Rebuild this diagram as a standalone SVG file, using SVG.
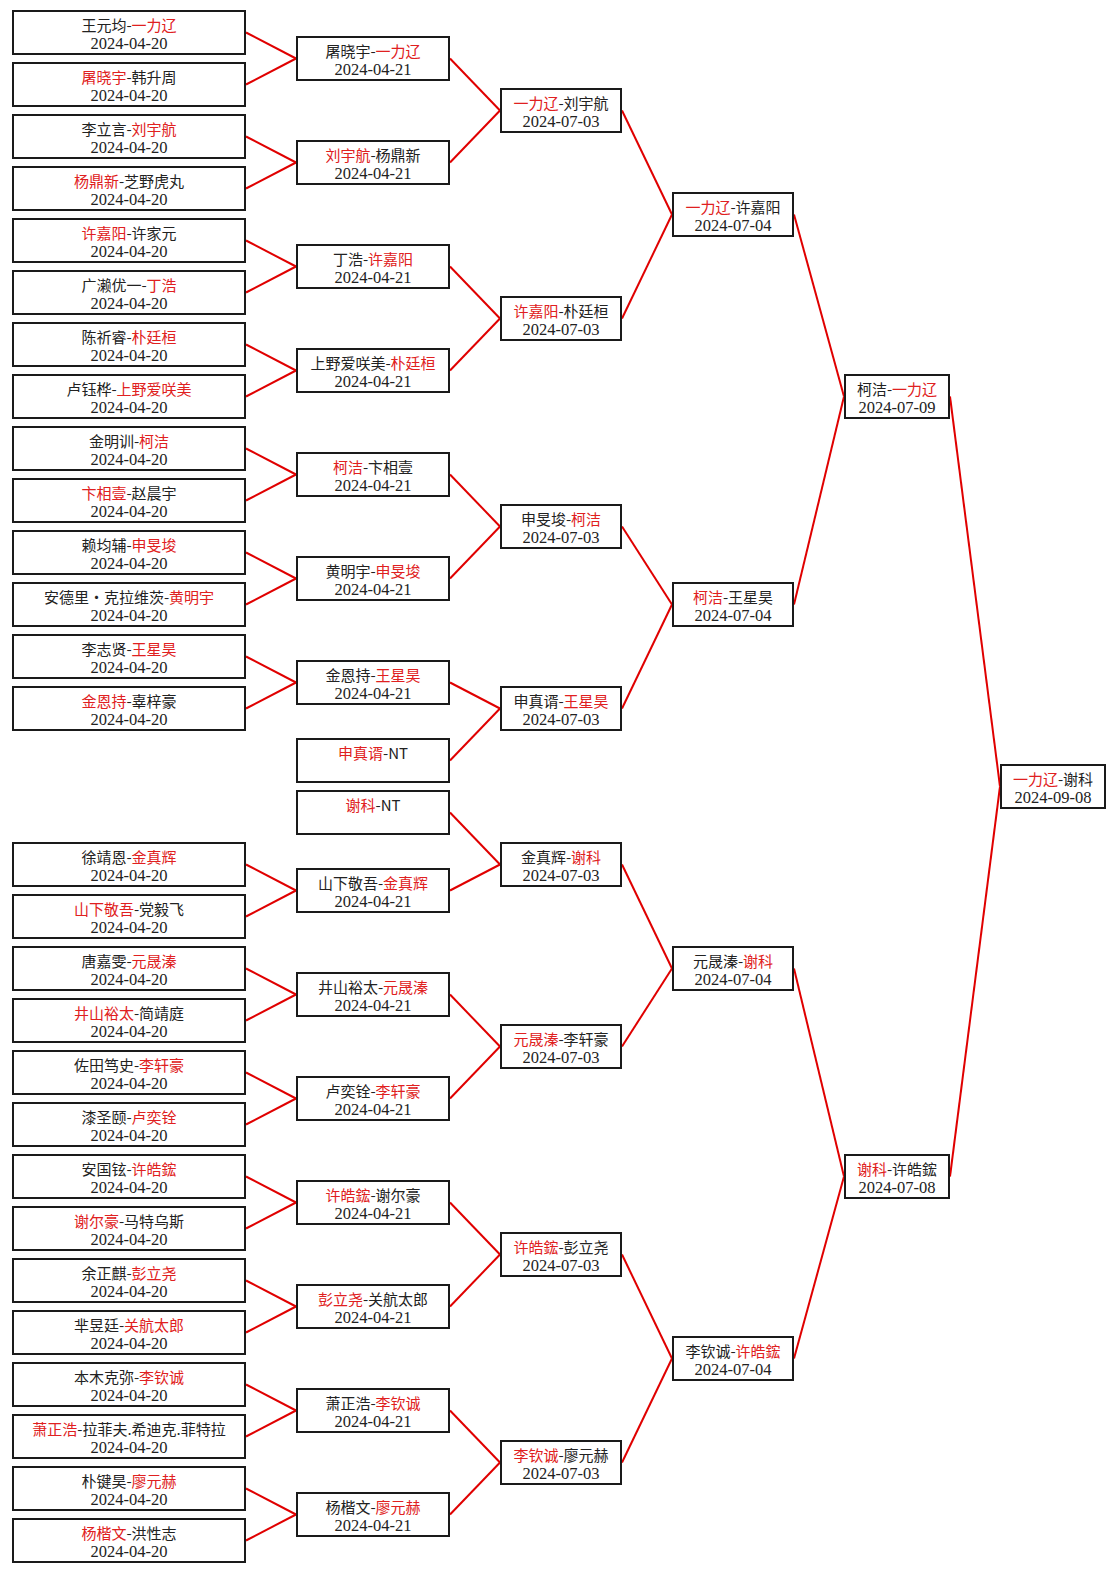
<svg xmlns="http://www.w3.org/2000/svg" width="1117" height="1573" viewBox="0 0 1117 1573">
<style>
.bg{fill:#fff}
.b{fill:none;stroke:#1a1a1a;stroke-width:2}
.t{font-family:"Noto Sans CJK SC","Noto Sans",sans-serif;font-size:15px;fill:#222;text-anchor:middle}
.w{fill:#e02020}
.d{font-family:"Liberation Serif",serif;font-size:16.5px;fill:#222;text-anchor:middle}
.c line{stroke:#e00000;stroke-width:2}
</style>
<rect class="bg" x="0" y="0" width="1117" height="1573"/>
<g id="connectors" class="c">
<line x1="246" y1="32.5" x2="296" y2="58.5"/><line x1="246" y1="84.5" x2="296" y2="58.5"/>
<line x1="246" y1="136.5" x2="296" y2="162.5"/><line x1="246" y1="188.5" x2="296" y2="162.5"/>
<line x1="246" y1="240.5" x2="296" y2="266.5"/><line x1="246" y1="292.5" x2="296" y2="266.5"/>
<line x1="246" y1="344.5" x2="296" y2="370.5"/><line x1="246" y1="396.5" x2="296" y2="370.5"/>
<line x1="246" y1="448.5" x2="296" y2="474.5"/><line x1="246" y1="500.5" x2="296" y2="474.5"/>
<line x1="246" y1="552.5" x2="296" y2="578.5"/><line x1="246" y1="604.5" x2="296" y2="578.5"/>
<line x1="246" y1="656.5" x2="296" y2="682.5"/><line x1="246" y1="708.5" x2="296" y2="682.5"/>
<line x1="246" y1="864.5" x2="296" y2="890.5"/><line x1="246" y1="916.5" x2="296" y2="890.5"/>
<line x1="246" y1="968.5" x2="296" y2="994.5"/><line x1="246" y1="1020.5" x2="296" y2="994.5"/>
<line x1="246" y1="1072.5" x2="296" y2="1098.5"/><line x1="246" y1="1124.5" x2="296" y2="1098.5"/>
<line x1="246" y1="1176.5" x2="296" y2="1202.5"/><line x1="246" y1="1228.5" x2="296" y2="1202.5"/>
<line x1="246" y1="1280.5" x2="296" y2="1306.5"/><line x1="246" y1="1332.5" x2="296" y2="1306.5"/>
<line x1="246" y1="1384.5" x2="296" y2="1410.5"/><line x1="246" y1="1436.5" x2="296" y2="1410.5"/>
<line x1="246" y1="1488.5" x2="296" y2="1514.5"/><line x1="246" y1="1540.5" x2="296" y2="1514.5"/>
<line x1="450" y1="58.5" x2="500" y2="110.5"/><line x1="450" y1="162.5" x2="500" y2="110.5"/>
<line x1="450" y1="266.5" x2="500" y2="318.5"/><line x1="450" y1="370.5" x2="500" y2="318.5"/>
<line x1="450" y1="474.5" x2="500" y2="526.5"/><line x1="450" y1="578.5" x2="500" y2="526.5"/>
<line x1="450" y1="682.5" x2="500" y2="708.5"/><line x1="450" y1="760.5" x2="500" y2="708.5"/>
<line x1="450" y1="812.5" x2="500" y2="864.5"/><line x1="450" y1="890.5" x2="500" y2="864.5"/>
<line x1="450" y1="994.5" x2="500" y2="1046.5"/><line x1="450" y1="1098.5" x2="500" y2="1046.5"/>
<line x1="450" y1="1202.5" x2="500" y2="1254.5"/><line x1="450" y1="1306.5" x2="500" y2="1254.5"/>
<line x1="450" y1="1410.5" x2="500" y2="1462.5"/><line x1="450" y1="1514.5" x2="500" y2="1462.5"/>
<line x1="622" y1="110.5" x2="672" y2="214.5"/><line x1="622" y1="318.5" x2="672" y2="214.5"/>
<line x1="622" y1="526.5" x2="672" y2="604.5"/><line x1="622" y1="708.5" x2="672" y2="604.5"/>
<line x1="622" y1="864.5" x2="672" y2="968.5"/><line x1="622" y1="1046.5" x2="672" y2="968.5"/>
<line x1="622" y1="1254.5" x2="672" y2="1358.5"/><line x1="622" y1="1462.5" x2="672" y2="1358.5"/>
<line x1="794" y1="214.5" x2="844" y2="396.5"/><line x1="794" y1="604.5" x2="844" y2="396.5"/>
<line x1="794" y1="968.5" x2="844" y2="1176.5"/><line x1="794" y1="1358.5" x2="844" y2="1176.5"/>
<line x1="950" y1="396.5" x2="1000" y2="786.5"/><line x1="950" y1="1176.5" x2="1000" y2="786.5"/>
</g>

<!-- Round 1 -->
<g id="r1-0" transform="translate(12,10)"><rect class="b" x="1" y="1" width="232" height="43"/><text class="t" x="117" y="20.5">王元均-<tspan class="w">一力辽</tspan></text><text class="d" x="117" y="38.5">2024-04-20</text></g>
<g id="r1-1" transform="translate(12,62)"><rect class="b" x="1" y="1" width="232" height="43"/><text class="t" x="117" y="20.5"><tspan class="w">屠晓宇</tspan>-韩升周</text><text class="d" x="117" y="38.5">2024-04-20</text></g>
<g id="r1-2" transform="translate(12,114)"><rect class="b" x="1" y="1" width="232" height="43"/><text class="t" x="117" y="20.5">李立言-<tspan class="w">刘宇航</tspan></text><text class="d" x="117" y="38.5">2024-04-20</text></g>
<g id="r1-3" transform="translate(12,166)"><rect class="b" x="1" y="1" width="232" height="43"/><text class="t" x="117" y="20.5"><tspan class="w">杨鼎新</tspan>-芝野虎丸</text><text class="d" x="117" y="38.5">2024-04-20</text></g>
<g id="r1-4" transform="translate(12,218)"><rect class="b" x="1" y="1" width="232" height="43"/><text class="t" x="117" y="20.5"><tspan class="w">许嘉阳</tspan>-许家元</text><text class="d" x="117" y="38.5">2024-04-20</text></g>
<g id="r1-5" transform="translate(12,270)"><rect class="b" x="1" y="1" width="232" height="43"/><text class="t" x="117" y="20.5">广濑优一-<tspan class="w">丁浩</tspan></text><text class="d" x="117" y="38.5">2024-04-20</text></g>
<g id="r1-6" transform="translate(12,322)"><rect class="b" x="1" y="1" width="232" height="43"/><text class="t" x="117" y="20.5">陈祈睿-<tspan class="w">朴廷桓</tspan></text><text class="d" x="117" y="38.5">2024-04-20</text></g>
<g id="r1-7" transform="translate(12,374)"><rect class="b" x="1" y="1" width="232" height="43"/><text class="t" x="117" y="20.5">卢钰桦-<tspan class="w">上野爱咲美</tspan></text><text class="d" x="117" y="38.5">2024-04-20</text></g>
<g id="r1-8" transform="translate(12,426)"><rect class="b" x="1" y="1" width="232" height="43"/><text class="t" x="117" y="20.5">金明训-<tspan class="w">柯洁</tspan></text><text class="d" x="117" y="38.5">2024-04-20</text></g>
<g id="r1-9" transform="translate(12,478)"><rect class="b" x="1" y="1" width="232" height="43"/><text class="t" x="117" y="20.5"><tspan class="w">卞相壹</tspan>-赵晨宇</text><text class="d" x="117" y="38.5">2024-04-20</text></g>
<g id="r1-10" transform="translate(12,530)"><rect class="b" x="1" y="1" width="232" height="43"/><text class="t" x="117" y="20.5">赖均辅-<tspan class="w">申旻埈</tspan></text><text class="d" x="117" y="38.5">2024-04-20</text></g>
<g id="r1-11" transform="translate(12,582)"><rect class="b" x="1" y="1" width="232" height="43"/><text class="t" x="117" y="20.5">安德里・克拉维茨-<tspan class="w">黄明宇</tspan></text><text class="d" x="117" y="38.5">2024-04-20</text></g>
<g id="r1-12" transform="translate(12,634)"><rect class="b" x="1" y="1" width="232" height="43"/><text class="t" x="117" y="20.5">李志贤-<tspan class="w">王星昊</tspan></text><text class="d" x="117" y="38.5">2024-04-20</text></g>
<g id="r1-13" transform="translate(12,686)"><rect class="b" x="1" y="1" width="232" height="43"/><text class="t" x="117" y="20.5"><tspan class="w">金恩持</tspan>-辜梓豪</text><text class="d" x="117" y="38.5">2024-04-20</text></g>
<g id="r1-16" transform="translate(12,842)"><rect class="b" x="1" y="1" width="232" height="43"/><text class="t" x="117" y="20.5">徐靖恩-<tspan class="w">金真辉</tspan></text><text class="d" x="117" y="38.5">2024-04-20</text></g>
<g id="r1-17" transform="translate(12,894)"><rect class="b" x="1" y="1" width="232" height="43"/><text class="t" x="117" y="20.5"><tspan class="w">山下敬吾</tspan>-党毅飞</text><text class="d" x="117" y="38.5">2024-04-20</text></g>
<g id="r1-18" transform="translate(12,946)"><rect class="b" x="1" y="1" width="232" height="43"/><text class="t" x="117" y="20.5">唐嘉雯-<tspan class="w">元晟溱</tspan></text><text class="d" x="117" y="38.5">2024-04-20</text></g>
<g id="r1-19" transform="translate(12,998)"><rect class="b" x="1" y="1" width="232" height="43"/><text class="t" x="117" y="20.5"><tspan class="w">井山裕太</tspan>-简靖庭</text><text class="d" x="117" y="38.5">2024-04-20</text></g>
<g id="r1-20" transform="translate(12,1050)"><rect class="b" x="1" y="1" width="232" height="43"/><text class="t" x="117" y="20.5">佐田笃史-<tspan class="w">李轩豪</tspan></text><text class="d" x="117" y="38.5">2024-04-20</text></g>
<g id="r1-21" transform="translate(12,1102)"><rect class="b" x="1" y="1" width="232" height="43"/><text class="t" x="117" y="20.5">漆圣颐-<tspan class="w">卢奕铨</tspan></text><text class="d" x="117" y="38.5">2024-04-20</text></g>
<g id="r1-22" transform="translate(12,1154)"><rect class="b" x="1" y="1" width="232" height="43"/><text class="t" x="117" y="20.5">安国铉-<tspan class="w">许皓鋐</tspan></text><text class="d" x="117" y="38.5">2024-04-20</text></g>
<g id="r1-23" transform="translate(12,1206)"><rect class="b" x="1" y="1" width="232" height="43"/><text class="t" x="117" y="20.5"><tspan class="w">谢尔豪</tspan>-马特乌斯</text><text class="d" x="117" y="38.5">2024-04-20</text></g>
<g id="r1-24" transform="translate(12,1258)"><rect class="b" x="1" y="1" width="232" height="43"/><text class="t" x="117" y="20.5">余正麒-<tspan class="w">彭立尧</tspan></text><text class="d" x="117" y="38.5">2024-04-20</text></g>
<g id="r1-25" transform="translate(12,1310)"><rect class="b" x="1" y="1" width="232" height="43"/><text class="t" x="117" y="20.5">芈昱廷-<tspan class="w">关航太郎</tspan></text><text class="d" x="117" y="38.5">2024-04-20</text></g>
<g id="r1-26" transform="translate(12,1362)"><rect class="b" x="1" y="1" width="232" height="43"/><text class="t" x="117" y="20.5">本木克弥-<tspan class="w">李钦诚</tspan></text><text class="d" x="117" y="38.5">2024-04-20</text></g>
<g id="r1-27" transform="translate(12,1414)"><rect class="b" x="1" y="1" width="232" height="43"/><text class="t" x="117" y="20.5"><tspan class="w">萧正浩</tspan>-拉菲夫.希迪克.菲特拉</text><text class="d" x="117" y="38.5">2024-04-20</text></g>
<g id="r1-28" transform="translate(12,1466)"><rect class="b" x="1" y="1" width="232" height="43"/><text class="t" x="117" y="20.5">朴键昊-<tspan class="w">廖元赫</tspan></text><text class="d" x="117" y="38.5">2024-04-20</text></g>
<g id="r1-29" transform="translate(12,1518)"><rect class="b" x="1" y="1" width="232" height="43"/><text class="t" x="117" y="20.5"><tspan class="w">杨楷文</tspan>-洪性志</text><text class="d" x="117" y="38.5">2024-04-20</text></g>

<!-- Round 2 -->
<g id="r2-0" transform="translate(296,36)"><rect class="b" x="1" y="1" width="152" height="43"/><text class="t" x="77" y="20.5">屠晓宇-<tspan class="w">一力辽</tspan></text><text class="d" x="77" y="38.5">2024-04-21</text></g>
<g id="r2-1" transform="translate(296,140)"><rect class="b" x="1" y="1" width="152" height="43"/><text class="t" x="77" y="20.5"><tspan class="w">刘宇航</tspan>-杨鼎新</text><text class="d" x="77" y="38.5">2024-04-21</text></g>
<g id="r2-2" transform="translate(296,244)"><rect class="b" x="1" y="1" width="152" height="43"/><text class="t" x="77" y="20.5">丁浩-<tspan class="w">许嘉阳</tspan></text><text class="d" x="77" y="38.5">2024-04-21</text></g>
<g id="r2-3" transform="translate(296,348)"><rect class="b" x="1" y="1" width="152" height="43"/><text class="t" x="77" y="20.5">上野爱咲美-<tspan class="w">朴廷桓</tspan></text><text class="d" x="77" y="38.5">2024-04-21</text></g>
<g id="r2-4" transform="translate(296,452)"><rect class="b" x="1" y="1" width="152" height="43"/><text class="t" x="77" y="20.5"><tspan class="w">柯洁</tspan>-卞相壹</text><text class="d" x="77" y="38.5">2024-04-21</text></g>
<g id="r2-5" transform="translate(296,556)"><rect class="b" x="1" y="1" width="152" height="43"/><text class="t" x="77" y="20.5">黄明宇-<tspan class="w">申旻埈</tspan></text><text class="d" x="77" y="38.5">2024-04-21</text></g>
<g id="r2-6" transform="translate(296,660)"><rect class="b" x="1" y="1" width="152" height="43"/><text class="t" x="77" y="20.5">金恩持-<tspan class="w">王星昊</tspan></text><text class="d" x="77" y="38.5">2024-04-21</text></g>
<g id="r2-bye1" transform="translate(296,738)"><rect class="b" x="1" y="1" width="152" height="43"/><text class="t" x="77" y="20.5"><tspan class="w">申真谞</tspan>-NT</text></g>
<g id="r2-bye2" transform="translate(296,790)"><rect class="b" x="1" y="1" width="152" height="43"/><text class="t" x="77" y="20.5"><tspan class="w">谢科</tspan>-NT</text></g>
<g id="r2-8" transform="translate(296,868)"><rect class="b" x="1" y="1" width="152" height="43"/><text class="t" x="77" y="20.5">山下敬吾-<tspan class="w">金真辉</tspan></text><text class="d" x="77" y="38.5">2024-04-21</text></g>
<g id="r2-9" transform="translate(296,972)"><rect class="b" x="1" y="1" width="152" height="43"/><text class="t" x="77" y="20.5">井山裕太-<tspan class="w">元晟溱</tspan></text><text class="d" x="77" y="38.5">2024-04-21</text></g>
<g id="r2-10" transform="translate(296,1076)"><rect class="b" x="1" y="1" width="152" height="43"/><text class="t" x="77" y="20.5">卢奕铨-<tspan class="w">李轩豪</tspan></text><text class="d" x="77" y="38.5">2024-04-21</text></g>
<g id="r2-11" transform="translate(296,1180)"><rect class="b" x="1" y="1" width="152" height="43"/><text class="t" x="77" y="20.5"><tspan class="w">许皓鋐</tspan>-谢尔豪</text><text class="d" x="77" y="38.5">2024-04-21</text></g>
<g id="r2-12" transform="translate(296,1284)"><rect class="b" x="1" y="1" width="152" height="43"/><text class="t" x="77" y="20.5"><tspan class="w">彭立尧</tspan>-关航太郎</text><text class="d" x="77" y="38.5">2024-04-21</text></g>
<g id="r2-13" transform="translate(296,1388)"><rect class="b" x="1" y="1" width="152" height="43"/><text class="t" x="77" y="20.5">萧正浩-<tspan class="w">李钦诚</tspan></text><text class="d" x="77" y="38.5">2024-04-21</text></g>
<g id="r2-14" transform="translate(296,1492)"><rect class="b" x="1" y="1" width="152" height="43"/><text class="t" x="77" y="20.5">杨楷文-<tspan class="w">廖元赫</tspan></text><text class="d" x="77" y="38.5">2024-04-21</text></g>

<!-- Round 3 -->
<g id="r3-0" transform="translate(500,88)"><rect class="b" x="1" y="1" width="120" height="43"/><text class="t" x="61" y="20.5"><tspan class="w">一力辽</tspan>-刘宇航</text><text class="d" x="61" y="38.5">2024-07-03</text></g>
<g id="r3-1" transform="translate(500,296)"><rect class="b" x="1" y="1" width="120" height="43"/><text class="t" x="61" y="20.5"><tspan class="w">许嘉阳</tspan>-朴廷桓</text><text class="d" x="61" y="38.5">2024-07-03</text></g>
<g id="r3-2" transform="translate(500,504)"><rect class="b" x="1" y="1" width="120" height="43"/><text class="t" x="61" y="20.5">申旻埈-<tspan class="w">柯洁</tspan></text><text class="d" x="61" y="38.5">2024-07-03</text></g>
<g id="r3-3" transform="translate(500,686)"><rect class="b" x="1" y="1" width="120" height="43"/><text class="t" x="61" y="20.5">申真谞-<tspan class="w">王星昊</tspan></text><text class="d" x="61" y="38.5">2024-07-03</text></g>
<g id="r3-4" transform="translate(500,842)"><rect class="b" x="1" y="1" width="120" height="43"/><text class="t" x="61" y="20.5">金真辉-<tspan class="w">谢科</tspan></text><text class="d" x="61" y="38.5">2024-07-03</text></g>
<g id="r3-5" transform="translate(500,1024)"><rect class="b" x="1" y="1" width="120" height="43"/><text class="t" x="61" y="20.5"><tspan class="w">元晟溱</tspan>-李轩豪</text><text class="d" x="61" y="38.5">2024-07-03</text></g>
<g id="r3-6" transform="translate(500,1232)"><rect class="b" x="1" y="1" width="120" height="43"/><text class="t" x="61" y="20.5"><tspan class="w">许皓鋐</tspan>-彭立尧</text><text class="d" x="61" y="38.5">2024-07-03</text></g>
<g id="r3-7" transform="translate(500,1440)"><rect class="b" x="1" y="1" width="120" height="43"/><text class="t" x="61" y="20.5"><tspan class="w">李钦诚</tspan>-廖元赫</text><text class="d" x="61" y="38.5">2024-07-03</text></g>

<!-- Round 4 -->
<g id="r4-0" transform="translate(672,192)"><rect class="b" x="1" y="1" width="120" height="43"/><text class="t" x="61" y="20.5"><tspan class="w">一力辽</tspan>-许嘉阳</text><text class="d" x="61" y="38.5">2024-07-04</text></g>
<g id="r4-1" transform="translate(672,582)"><rect class="b" x="1" y="1" width="120" height="43"/><text class="t" x="61" y="20.5"><tspan class="w">柯洁</tspan>-王星昊</text><text class="d" x="61" y="38.5">2024-07-04</text></g>
<g id="r4-2" transform="translate(672,946)"><rect class="b" x="1" y="1" width="120" height="43"/><text class="t" x="61" y="20.5">元晟溱-<tspan class="w">谢科</tspan></text><text class="d" x="61" y="38.5">2024-07-04</text></g>
<g id="r4-3" transform="translate(672,1336)"><rect class="b" x="1" y="1" width="120" height="43"/><text class="t" x="61" y="20.5">李钦诚-<tspan class="w">许皓鋐</tspan></text><text class="d" x="61" y="38.5">2024-07-04</text></g>

<!-- Round 5 -->
<g id="r5-0" transform="translate(844,374)"><rect class="b" x="1" y="1" width="104" height="43"/><text class="t" x="53" y="20.5">柯洁-<tspan class="w">一力辽</tspan></text><text class="d" x="53" y="38.5">2024-07-09</text></g>
<g id="r5-1" transform="translate(844,1154)"><rect class="b" x="1" y="1" width="104" height="43"/><text class="t" x="53" y="20.5"><tspan class="w">谢科</tspan>-许皓鋐</text><text class="d" x="53" y="38.5">2024-07-08</text></g>

<!-- Final -->
<g id="final" transform="translate(1000,764)"><rect class="b" x="1" y="1" width="104" height="43"/><text class="t" x="53" y="20.5"><tspan class="w">一力辽</tspan>-谢科</text><text class="d" x="53" y="38.5">2024-09-08</text></g>
</svg>
